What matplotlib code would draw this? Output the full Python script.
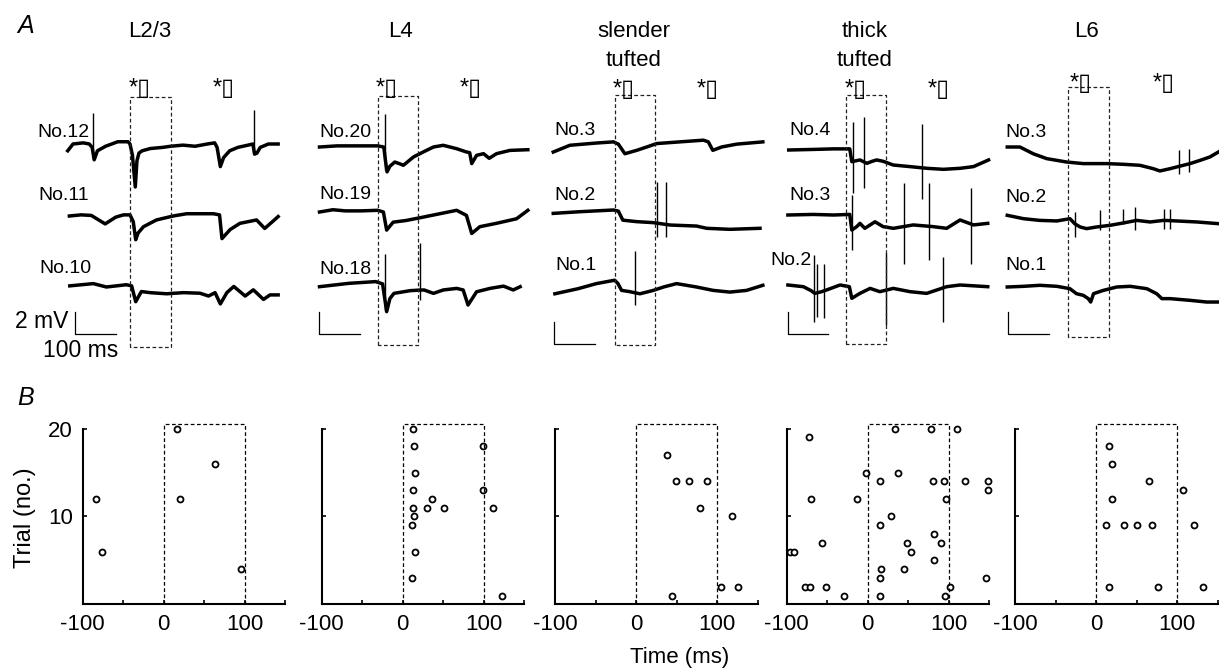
import numpy as np
import matplotlib.pyplot as plt

plt.rcParams['font.family'] = ['Liberation Sans', 'DejaVu Sans']

# ---- panel A: example membrane potential traces (ms, mV relative to baseline) ----
col_titles = [['L2/3'], ['L4'], ['slender', 'tufted'], ['thick', 'tufted'], ['L6']]

l23_labels = ['No.12', 'No.11', 'No.10']
l23_t = [
    [-153, -140, -115, -100, -93, -88, -80, -60, -30, -5, 0, 6, 13, 17, 22, 30, 50, 80, 100, 130,
     160, 190, 208, 214, 222, 230, 245, 265, 290, 302, 306, 312, 320, 340, 364],
    [-149, -120, -95, -61, -35, -16, 0, 8, 14, 20, 33, 65, 106, 139, 205, 220, 226, 246, 270, 311, 331, 350, 364],
    [-148, -90, -58, -9, 4, 14, 28, 49, 90, 131, 172, 193, 209, 222, 238, 255, 283, 303, 328, 344, 364],
]
l23_mv = [
    [-0.6, 0, 0.1, 0, -0.3, -1.4, -0.6, -0.2, 0.2, 0.2, 0, -1.0, -3.8, -1.5, -0.8, -0.6, -0.4, -0.3, -0.2, -0.1,
     -0.2, 0.0, 0.1, -0.3, -2.0, -1.2, -0.6, -0.3, -0.1, 0, -0.9, -0.8, -0.3, 0, 0],
    [0, 0.1, 0.05, -0.7, -0.1, 0.1, 0.1, -0.5, -2.1, -1.5, -0.95, -0.35, 0, 0.2, 0.2, 0.1, -2.0, -1.2, -0.65, -0.35, -1.1, -0.5, -0.05],
    [0.1, 0.3, 0, 0.2, 0.1, -1.3, -0.4, -0.5, -0.6, -0.5, -0.55, -0.8, -0.5, -1.5, -0.5, 0.05, -0.8, -0.25, -1.1, -0.7, -0.7],
]
l23_spikes = [[(-91, 2.7, -1.2), (305, 3.0, -0.9)], [], []]

l4_labels = ['No.20', 'No.19', 'No.18']
l4_t = [
    [-143, -100, -50, 0, 15, 19, 23, 30, 42, 55, 63, 88, 112, 137, 161, 194, 218, 226, 231, 243, 260, 274, 292, 325, 369],
    [-143, -110, -80, -40, 0, 14, 22, 38, 70, 112, 153, 194, 218, 231, 251, 292, 341, 369],
    [-143, -70, -5, 12, 22, 30, 40, 80, 104, 114, 137, 161, 194, 210, 222, 243, 276, 309, 333, 350],
]
l4_mv = [
    [0, 0.1, 0.1, 0.1, 0, -1.2, -2.2, -1.7, -1.33, -1.5, -1.62, -0.88, -0.44, 0, 0.15, -0.15, -0.44, -0.5, -1.47, -0.74, -0.59, -1.0, -0.59, -0.3, -0.24],
    [0, 0.2, 0.1, 0.1, 0.15, 0, -1.6, -0.9, -0.75, -0.45, -0.15, 0.15, -0.3, -1.9, -1.3, -1.0, -0.6, 0.15],
    [-0.15, 0.15, 0.3, 0.1, -2.36, -1.2, -0.74, -0.5, -0.45, -0.44, -0.74, -0.44, -0.3, -0.44, -1.77, -0.6, -0.3, -0.1, -0.44, -0.15],
]
l4_spikes = [[(18, 2.95, -2.0)], [], [(17, 2.7, -2.2), (104, 3.7, -1.3)]]

slender_labels = ['No.3', 'No.2', 'No.1']
slender_t = [
    [-151, -110, -44, -3, 9, 25, 54, 79, 103, 160, 218, 230, 241, 263, 300, 364],
    [-151, -85, -3, 9, 20, 54, 95, 136, 201, 226, 283, 357],
    [-147, -90, -45, 0, 8, 17, 35, 62, 95, 120, 152, 201, 242, 283, 324, 364],
]
slender_mv = [
    [-0.8, -0.2, 0, 0.1, -0.1, -0.95, -0.65, -0.35, -0.05, 0.1, 0.25, 0.1, -0.65, -0.35, -0.1, 0.1],
    [-0.3, -0.15, 0, -0.1, -0.9, -1.03, -1.12, -1.33, -1.42, -1.62, -1.71, -1.62],
    [-0.6, -0.15, 0.3, 0.6, 0.3, -0.3, -0.4, -0.6, -0.3, 0, 0.3, 0, -0.3, -0.45, -0.3, 0.15],
]
slender_spikes = [[], [(103, 2.5, -2.36), (125, 2.5, -2.36)], [(50, 3.2, -1.6)]]

thick_labels = ['No.4', 'No.3', 'No.2']
thick_t = [
    [-140, -80, -30, 10, 15, 35, 52, 65, 76, 92, 117, 158, 199, 240, 281, 314, 351],
    [-142, -80, -30, 10, 15, 27, 35, 47, 72, 92, 117, 166, 215, 248, 281, 314, 349],
    [-142, -104, -85, -76, -60, -47, -14, 9, 15, 35, 60, 84, 117, 158, 199, 224, 248, 281, 349],
]
thick_mv = [
    [0, 0.05, 0.1, 0.1, -1.03, -0.88, -1.18, -1.0, -0.88, -1.0, -1.33, -1.47, -1.62, -1.71, -1.62, -1.47, -0.88],
    [0, 0.05, 0, 0.05, -1.33, -1.03, -0.74, -1.18, -0.6, -1.03, -1.18, -0.88, -1.03, -1.18, -0.44, -0.88, -0.74],
    [0, -0.15, -0.5, -0.74, -0.6, -0.44, 0, -0.15, -1.18, -0.74, -0.3, -0.59, -0.3, -0.59, -0.74, -0.44, -0.15, 0, -0.15],
]
thick_spikes = [
    [(17, 2.5, -3.8), (46, 2.95, -3.4), (188, 2.3, -4.3)],
    [(15, 1.8, -3.1), (143, 2.8, -4.3), (205, 2.86, -4.0), (307, 2.36, -4.3)],
    [(-77, 2.65, -3.24), (-70, 1.9, -2.8), (-53, 1.9, -2.95), (99, 2.8, -3.54), (238, 2.5, -3.24)],
]

l6_labels = ['No.3', 'No.2', 'No.1']
l6_t = [
    [-150, -119, -86, -53, -4, 37, 94, 135, 176, 209, 225, 250, 266, 299, 324, 348, 369],
    [-150, -110, -70, -28, 4, 16, 29, 45, 70, 102, 135, 168, 201, 234, 266, 316, 369],
    [-150, -110, -70, -28, 4, 20, 37, 49, 55, 62, 86, 119, 152, 193, 217, 230, 250, 299, 340, 369],
]
l6_mv = [
    [0, 0, -0.6, -1.03, -1.33, -1.47, -1.47, -1.53, -1.62, -1.92, -2.12, -1.92, -1.77, -1.47, -1.18, -0.88, -0.44],
    [0.15, -0.15, -0.3, -0.35, -0.15, -0.6, -0.88, -1.03, -0.88, -0.74, -0.53, -0.3, -0.44, -0.3, -0.35, -0.44, -0.59],
    [0, 0.06, 0.15, 0.06, -0.15, -0.59, -0.74, -1.03, -1.33, -0.59, -0.3, 0, 0.06, -0.15, -0.59, -1.03, -1.03, -1.18, -1.33, -1.33],
]
l6_spikes = [
    [(273, -0.3, -2.36), (297, -0.15, -2.2)],
    [(16, 0.44, -1.77), (78, 0.59, -1.18), (135, 0.74, -0.6), (164, 0.88, -1.18), (235, 0.74, -1.03), (250, 0.74, -1.03)],
    [],
]

# ---- panel B: spike rasters (time ms, trial no.) ----
l23_spk_t = [-84, -76, 17, 20, 63, 96]
l23_spk_trial = [12, 6, 20, 12, 16, 4]
l4_spk_t = [13, 14, 15, 13, 36, 13, 30, 51, 14, 12, 15, 12, 99, 99, 112, 123]
l4_spk_trial = [20, 18, 15, 13, 12, 11, 11, 11, 10, 9, 6, 3, 18, 13, 11, 1]
slender_spk_t = [38, 49, 66, 88, 79, 118, 105, 126, 45]
slender_spk_trial = [17, 14, 14, 14, 11, 10, 2, 2, 1]
thick_spk_t = [-73, 34, 78, 110, -2, 38, 15, 81, 94, 120, 149, 148, -70, -13, 97, 29, 15, 82, -56, 48,
               90, -96, -91, 53, 82, 16, 45, 15, 146, -78, -71, -52, 102, -29, 15, 95]
thick_spk_trial = [19, 20, 20, 20, 15, 15, 14, 14, 14, 14, 14, 13, 12, 12, 12, 10, 9, 8, 7, 7,
                   7, 6, 6, 6, 5, 4, 4, 3, 3, 2, 2, 2, 2, 1, 1, 1]
l6_spk_t = [16, 20, 65, 108, 20, 12, 34, 51, 69, 121, 16, 76, 132]
l6_spk_trial = [18, 16, 14, 13, 12, 9, 9, 9, 9, 9, 2, 2, 2]

columns = [
    (l23_labels, l23_t, l23_mv, l23_spikes, l23_spk_t, l23_spk_trial),
    (l4_labels, l4_t, l4_mv, l4_spikes, l4_spk_t, l4_spk_trial),
    (slender_labels, slender_t, slender_mv, slender_spikes, slender_spk_t, slender_spk_trial),
    (thick_labels, thick_t, thick_mv, thick_spikes, thick_spk_t, thick_spk_trial),
    (l6_labels, l6_t, l6_mv, l6_spikes, l6_spk_t, l6_spk_trial),
]

# ---- layout (pixels) ----
W, H = 1219, 672
PX_MS, PX_MV = 0.407, 11.3
A_TOP, A_BOT = 60, 365
T_MIN, T_MAX = -170, 390
t0_px = [130, 377.7, 614.7, 845.7, 1068.3]
base_py = [[144, 216, 287], [147, 212, 285], [143, 210, 287], [150, 215, 285], [147, 217, 287]]
box_py = [(96.7, 346.7), (96, 345), (95, 345), (94.7, 344.3), (87.3, 337.3)]
bar_px = [(75, 311.7), (319.3, 311.7), (554.3, 321.7), (787.7, 311.7), (1008.3, 311.7)]
title_x = [150, 400, 634, 865, 1087]
stim_x = [(129, 213), (376, 460), (613, 697), (845, 928), (1070, 1153)]
stim_base = [95, 95, 96, 96, 90]
name_pos = [[(37, 137), (38, 200), (39, 273)], [(319, 137), (319, 199), (319, 274)],
            [(554, 135), (554, 200), (555, 270)], [(789, 135), (789, 200), (770, 265)],
            [(1005, 137), (1005, 202), (1005, 270)]]
b_left = [82.7, 321.7, 555, 786.7, 1015]
B_TOP, B_BOT, B_W = 423.4, 604.3, 202.5

fig = plt.figure(figsize=(W / 100, H / 100), dpi=100)


def ptext(x, y, s, **kw):
    fig.text(x / W, 1 - y / H, s, **kw)


def mv(py):
    return (A_BOT - py) / PX_MV


dash = (0, (3, 2))

for c, (names, ts, vs, spikes, spk_t, spk_trial) in enumerate(columns):
    # traces
    left = t0_px[c] + T_MIN * PX_MS
    right = t0_px[c] + T_MAX * PX_MS
    ax = fig.add_axes([left / W, 1 - A_BOT / H, (right - left) / W, (A_BOT - A_TOP) / H])
    ax.set_xlim(T_MIN, T_MAX)
    ax.set_ylim(0, (A_BOT - A_TOP) / PX_MV)
    ax.axis('off')
    for r in range(3):
        off = mv(base_py[c][r])
        ax.plot(ts[r], np.array(vs[r]) + off, color='k', lw=2.5, solid_joinstyle='round')
        for st, top, bot in spikes[r]:
            ax.vlines(st, off + bot, off + top, color='k', lw=1.0)
        ptext(*name_pos[c][r], names[r], fontsize=14, va='baseline')
    btop, bbot = box_py[c]
    ax.plot([0, 0, 100, 100, 0], [mv(bbot), mv(btop), mv(btop), mv(bbot), mv(bbot)],
            color='#222222', lw=0.9, ls=dash, clip_on=False)
    bx, by = bar_px[c]
    tb = (bx - t0_px[c]) / PX_MS
    ax.plot([tb, tb, tb + 100], [mv(by), mv(by + 2 * PX_MV), mv(by + 2 * PX_MV)],
            color='k', lw=0.9, clip_on=False)

    # titles and stimulus marks
    for k, line in enumerate(col_titles[c]):
        ptext(title_x[c], 37 + 29 * k, line, fontsize=16, ha='center', va='baseline')
    for sx in stim_x[c]:
        ptext(sx, stim_base[c], '*\u25af', fontsize=17, va='baseline')

    # raster
    bx0 = b_left[c]
    axb = fig.add_axes([bx0 / W, 1 - B_BOT / H, B_W / W, (B_BOT - B_TOP) / H])
    axb.set_xlim(-100, 150)
    axb.set_ylim(0, 20.6)
    axb.plot(spk_t, spk_trial, 'o', ms=4.3, mfc='white', mec='k', mew=1.3, clip_on=False)
    axb.plot([0, 0, 100, 100], [0, 20.5, 20.5, 0], color='k', lw=0.9, ls=dash, clip_on=False)
    for side in ['top', 'right']:
        axb.spines[side].set_visible(False)
    axb.spines['left'].set_bounds(0, 20)
    axb.spines['bottom'].set_bounds(-100, 150)
    for side in ['left', 'bottom']:
        axb.spines[side].set_linewidth(1.5)
    axb.set_xticks([-100, -50, 0, 50, 100, 150])
    axb.set_xticklabels(['-100', '', '0', '', '100', ''])
    axb.set_yticks([10, 20])
    axb.set_yticklabels(['10', '20'] if c == 0 else ['', ''])
    axb.tick_params(direction='in', length=3, width=1.2, pad=7, labelsize=16)

ptext(75 - 7, 328.3, '2 mV', fontsize=16.5, ha='right', va='baseline')
ptext(43, 357, '100 ms', fontsize=16.5, va='baseline')
ptext(17, 33, 'A', fontsize=18, style='italic', va='baseline')
ptext(17, 405, 'B', fontsize=18, style='italic', va='baseline')
ptext(680, 658, 'Time (ms)', fontsize=16, ha='center', va='center')
ptext(25, 518, 'Trial (no.)', fontsize=17, rotation=90, ha='center', va='center')

fig.savefig('out.png', dpi=100)
